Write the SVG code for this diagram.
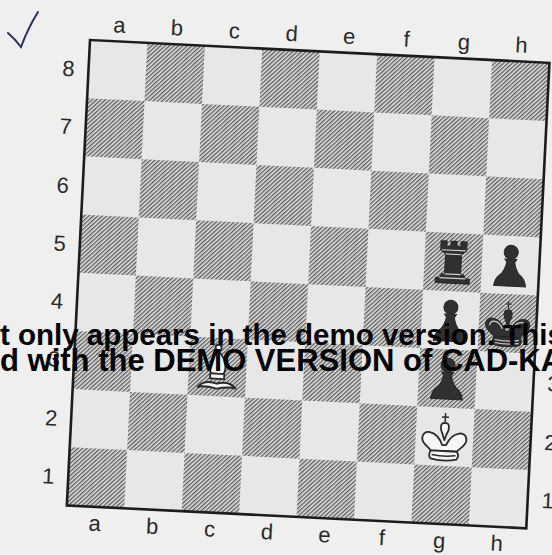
<svg xmlns="http://www.w3.org/2000/svg" width="552" height="555" viewBox="0 0 552 555">
<style>
.lbl{font-family:"Liberation Sans",Arial,sans-serif;font-size:22px;fill:#2a2a2a;text-anchor:middle}
.demo{font-family:"Liberation Sans",Arial,sans-serif;font-weight:bold;fill:#000}
.lt{fill:#e7e7e7}
.dk{fill:url(#hatch)}
.bp{fill:#303030;stroke:#262626;stroke-width:1}
.bl{fill:none;stroke:#cfcfcf;stroke-width:1.2}
.wp{fill:#f6f6f6;stroke:#2a2a2a;stroke-width:1.8;stroke-linejoin:round}
.wl{fill:none;stroke:#2a2a2a;stroke-width:1.5}
</style>
<defs>
<pattern id="hatch" width="3" height="10" patternUnits="userSpaceOnUse" patternTransform="rotate(45)">
<rect width="3" height="10" fill="#e2e2e2"/>
<line x1="0.7" y1="0" x2="0.7" y2="10" stroke="#505050" stroke-width="1.25"/>
</pattern>
<g id="pawn">
<circle cx="0" cy="-13" r="7"/>
<path d="M-6,-6 H6 L4,-3 Q5,4 9,9 Q15,13 16,21 H-16 Q-15,13 -9,9 Q-5,4 -4,-3 Z"/>
</g>
</defs>
<rect width="552" height="555" fill="#efefef"/>
<path id="checkmark" d="M8,33 Q15,39 21,47 Q28,28 38,12" fill="none" stroke="#2b3160" stroke-width="2" stroke-linecap="round"/>
<g id="board" transform="translate(90,40) rotate(2.85)">
<rect class="lt" x="0" y="0" width="460" height="466"/>
<g id="dark-squares" class="dk">
<rect x="57.5" y="0" width="57.5" height="58.25"/><rect x="172.5" y="0" width="57.5" height="58.25"/><rect x="287.5" y="0" width="57.5" height="58.25"/><rect x="402.5" y="0" width="57.5" height="58.25"/>
<rect x="0" y="58.25" width="57.5" height="58.25"/><rect x="115" y="58.25" width="57.5" height="58.25"/><rect x="230" y="58.25" width="57.5" height="58.25"/><rect x="345" y="58.25" width="57.5" height="58.25"/>
<rect x="57.5" y="116.5" width="57.5" height="58.25"/><rect x="172.5" y="116.5" width="57.5" height="58.25"/><rect x="287.5" y="116.5" width="57.5" height="58.25"/><rect x="402.5" y="116.5" width="57.5" height="58.25"/>
<rect x="0" y="174.75" width="57.5" height="58.25"/><rect x="115" y="174.75" width="57.5" height="58.25"/><rect x="230" y="174.75" width="57.5" height="58.25"/><rect x="345" y="174.75" width="57.5" height="58.25"/>
<rect x="57.5" y="233" width="57.5" height="58.25"/><rect x="172.5" y="233" width="57.5" height="58.25"/><rect x="287.5" y="233" width="57.5" height="58.25"/><rect x="402.5" y="233" width="57.5" height="58.25"/>
<rect x="0" y="291.25" width="57.5" height="58.25"/><rect x="115" y="291.25" width="57.5" height="58.25"/><rect x="230" y="291.25" width="57.5" height="58.25"/><rect x="345" y="291.25" width="57.5" height="58.25"/>
<rect x="57.5" y="349.5" width="57.5" height="58.25"/><rect x="172.5" y="349.5" width="57.5" height="58.25"/><rect x="287.5" y="349.5" width="57.5" height="58.25"/><rect x="402.5" y="349.5" width="57.5" height="58.25"/>
<rect x="0" y="407.75" width="57.5" height="58.25"/><rect x="115" y="407.75" width="57.5" height="58.25"/><rect x="230" y="407.75" width="57.5" height="58.25"/><rect x="345" y="407.75" width="57.5" height="58.25"/>
</g>
<rect x="0" y="0" width="460" height="466" fill="none" stroke="#1c1c1c" stroke-width="2.6"/>
<g id="files-top" class="lbl">
<text x="28.75" y="-9">a</text><text x="86.25" y="-9">b</text><text x="143.75" y="-9">c</text><text x="201.25" y="-9">d</text><text x="258.75" y="-9">e</text><text x="316.25" y="-9">f</text><text x="373.75" y="-9">g</text><text x="431.25" y="-9">h</text>
</g>
<g id="files-bottom" class="lbl">
<text x="28.75" y="490">a</text><text x="86.25" y="490">b</text><text x="143.75" y="490">c</text><text x="201.25" y="490">d</text><text x="258.75" y="490">e</text><text x="316.25" y="490">f</text><text x="373.75" y="490">g</text><text x="431.25" y="490">h</text>
</g>
<g id="ranks-left" class="lbl">
<text x="-20" y="37">8</text><text x="-20" y="95">7</text><text x="-20" y="154">6</text><text x="-20" y="212">5</text><text x="-20" y="270">4</text><text x="-20" y="328">3</text><text x="-20" y="387">2</text><text x="-20" y="445">1</text>
</g>
<g id="ranks-right" class="lbl">
<text x="480" y="212">5</text><text x="480" y="328">3</text><text x="480" y="387">2</text><text x="480" y="445">1</text>
</g>
<g id="black-rook-g5" transform="translate(373.75,204)">
<path class="bp" d="M-17,21 H17 V16 H13 L11,12 H8 V-8 L13,-12 V-21 H7 V-16 H3 V-21 H-3 V-16 H-7 V-21 H-13 V-12 L-8,-8 V12 H-11 L-13,16 H-17 Z"/>
<path class="bl" d="M-12,-12 H12 M-8,-8 H8 M-8,12 H8 M-13,16 H13"/>
</g>
<g id="black-pawn-h5" class="bp" transform="translate(431.25,204)"><use href="#pawn"/></g>
<g id="black-pawn-g4" class="bp" transform="translate(373.75,262)"><use href="#pawn"/></g>
<g id="black-pawn-g3" class="bp" transform="translate(373.75,320)"><use href="#pawn"/></g>
<g id="black-king-h4" transform="translate(431.25,262)">
<path class="bp" d="M0,-22 V-14 M-3,-19 H3" stroke-width="1.6"/>
<path class="bp" d="M0,-13 C-5,-14 -5,-7 -2,-2 L0,4 L2,-2 C5,-7 5,-14 0,-13 Z"/>
<path class="bp" d="M-2,8 C-8,-7 -23,-8 -22,3 C-21,8 -16,10 -13,14 H13 C16,10 21,8 22,3 C23,-8 8,-7 2,8 Z"/>
<path class="bp" d="M-13,14 Q-16,18 -13,22 Q0,25 13,22 Q16,18 13,14 Z"/>
<path class="bl" d="M-12,17 Q0,19 12,17 M-12,20 Q0,22 12,20 M-18,3 C-17,-3 -9,-3 -5,6 M18,3 C17,-3 9,-3 5,6"/>
</g>
<g id="white-king-g2" transform="translate(373.75,379)">
<path class="wl" d="M0,-24 V-15 M-3.5,-20 H3.5"/>
<path class="wp" d="M0,-14 C-5,-15 -5,-8 -2,-3 L0,3 L2,-3 C5,-8 5,-15 0,-14 Z"/>
<path class="wp" d="M-2,8 C-8,-7 -23,-8 -22,3 C-21,8 -16,10 -13,14 H13 C16,10 21,8 22,3 C23,-8 8,-7 2,8 Z"/>
<path class="wp" d="M-13,14 Q-16,18 -13,22 Q0,25 13,22 Q16,18 13,14 Z"/>
<path class="wl" d="M-12,18 Q0,20 12,18" stroke-width="1.2"/>
</g>
<g id="white-bishop-c3" transform="translate(143.75,320)">
<circle class="wp" cx="0" cy="-19" r="3"/>
<path class="wp" d="M0,-16 C-9,-7 -9,3 -6,7 H6 C9,3 9,-7 0,-16 Z"/>
<rect class="wp" x="-7" y="7" width="14" height="5"/>
<path class="wp" d="M-19,21 Q-12,13 0,17 Q12,13 19,21 Q12,19 0,22 Q-12,19 -19,21 Z"/>
</g>
</g>
<g id="demo-watermark" class="demo">
<text x="0" y="345" font-size="29.5">t only appears in the demo version. This</text>
<text x="0" y="371" font-size="31">d with the DEMO VERSION of CAD-KA</text>
</g>
</svg>
